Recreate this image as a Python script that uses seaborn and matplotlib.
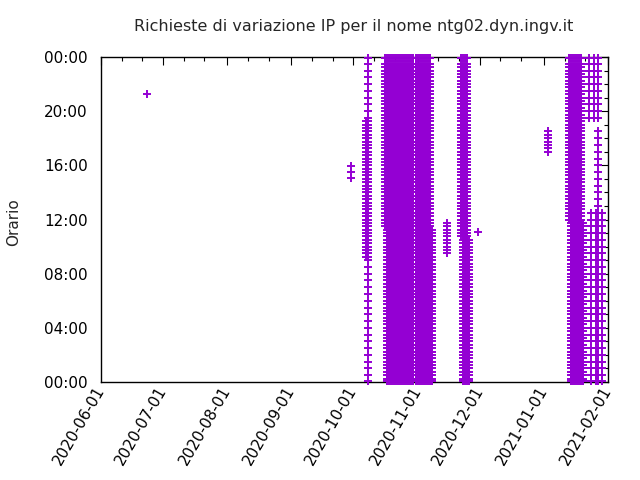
import matplotlib
matplotlib.use("Agg")
import matplotlib.pyplot as plt
import matplotlib.dates as mdates
from matplotlib.ticker import MultipleLocator, FuncFormatter
import seaborn as sns
import pandas as pd

# ---------------- data ----------------
TITLE = "Richieste di variazione IP per il nome ntg02.dyn.ingv.it"
YLABEL = "Orario"
X_START, X_END = "2020-06-01", "2021-02-01"

# time-of-day samples (hours)
T_HALF = [0.1, 0.5, 1.0, 1.5, 2.0, 2.5, 3.0, 3.5, 4.0, 4.5, 5.0, 5.5, 6.0, 6.5,
          7.0, 7.5, 8.0, 8.5, 9.0, 9.5, 10.0, 10.5, 11.0, 11.5, 12.0, 12.5,
          13.0, 13.5, 14.0, 14.5, 15.0, 15.5, 16.0, 16.5, 17.0, 17.5, 18.0,
          18.5, 19.0, 19.5, 20.0, 20.5, 21.0, 21.5, 22.0, 22.5, 23.0, 23.5, 23.9]
T_QUARTER = [0.1, 0.25, 0.5, 0.75, 1.0, 1.25, 1.5, 1.75, 2.0, 2.25, 2.5, 2.75,
             3.0, 3.25, 3.5, 3.75, 4.0, 4.25, 4.5, 4.75, 5.0, 5.25, 5.5, 5.75,
             6.0, 6.25, 6.5, 6.75, 7.0, 7.25, 7.5, 7.75, 8.0, 8.25, 8.5, 8.75,
             9.0, 9.25, 9.5, 9.75, 10.0, 10.25, 10.5, 10.75, 11.0, 11.25, 11.5, 11.75,
             12.0, 12.25, 12.5, 12.75, 13.0, 13.25, 13.5, 13.75, 14.0, 14.25, 14.5, 14.75,
             15.0, 15.25, 15.5, 15.75, 16.0, 16.25, 16.5, 16.75, 17.0, 17.25, 17.5, 17.75,
             18.0, 18.25, 18.5, 18.75, 19.0, 19.25, 19.5, 19.75, 20.0, 20.25, 20.5, 20.75,
             21.0, 21.25, 21.5, 21.75, 22.0, 22.25, 22.5, 22.75, 23.0, 23.25, 23.5, 23.9]

# isolated requests
JUN_DAYS, JUN_TIMES = ["2020-06-23"], [21.27]
SEP_DAYS, SEP_TIMES = ["2020-09-30"], [15.1, 15.5, 15.95]
NOV15_DAYS, NOV15_TIMES = ["2020-11-15"], [9.5, 9.75, 10.0, 10.25, 10.5, 10.75, 11.0, 11.25, 11.5, 11.75]
NOV30_DAYS, NOV30_TIMES = ["2020-11-30"], [11.1]
JAN03_DAYS, JAN03_TIMES = ["2021-01-03"], [17.0, 17.25, 17.5, 17.75, 18.0, 18.25, 18.5]

# early October column
OCT_A_TOP_DAYS = ["2020-10-08"]
OCT_A_MID_DAYS = ["2020-10-07", "2020-10-08"]
OCT_A_BOT_DAYS = ["2020-10-08"]

# main October / November block
OCT_B_TOP_DAYS = ["2020-10-16", "2020-10-17", "2020-10-18", "2020-10-19",
                  "2020-10-20", "2020-10-21", "2020-10-22", "2020-10-23", "2020-10-24",
                  "2020-10-25", "2020-10-26", "2020-10-27", "2020-10-28", "2020-10-29",
                  "2020-10-30", "2020-10-31", "2020-11-01", "2020-11-02", "2020-11-03",
                  "2020-11-04", "2020-11-05", "2020-11-06", "2020-11-07"]
OCT_B_BOT_DAYS = ["2020-10-17", "2020-10-18", "2020-10-19", "2020-10-20", "2020-10-21",
                  "2020-10-22", "2020-10-23", "2020-10-24", "2020-10-25", "2020-10-26",
                  "2020-10-27", "2020-10-28", "2020-10-29", "2020-10-30", "2020-10-31",
                  "2020-11-01", "2020-11-02", "2020-11-03", "2020-11-04", "2020-11-05",
                  "2020-11-06", "2020-11-07", "2020-11-08"]

# late November column
NOV_TOP_DAYS = ["2020-11-22", "2020-11-23", "2020-11-24", "2020-11-25"]
NOV_BOT_DAYS = ["2020-11-23", "2020-11-24", "2020-11-25", "2020-11-26"]

# January block
JAN_TOP_DAYS = ["2021-01-13", "2021-01-14", "2021-01-15", "2021-01-16",
                "2021-01-17", "2021-01-18", "2021-01-19"]
JAN_BOT_DAYS = ["2021-01-14", "2021-01-15", "2021-01-16", "2021-01-17",
                "2021-01-18", "2021-01-19", "2021-01-20"]
LATE_TOP_DAYS = ["2021-01-23", "2021-01-25", "2021-01-27"]
LATE_COL_DAYS = ["2021-01-27"]
LATE_BOT_DAYS = ["2021-01-24", "2021-01-26", "2021-01-29"]

COLOR = "#9400D3"

# ---------------- assemble table (x = day, y = time of day) ----------------
clusters = [
    (JUN_DAYS, JUN_TIMES),
    (SEP_DAYS, SEP_TIMES),
    (NOV15_DAYS, NOV15_TIMES),
    (NOV30_DAYS, NOV30_TIMES),
    (JAN03_DAYS, JAN03_TIMES),
    (OCT_A_TOP_DAYS, [t for t in T_HALF if t >= 19.5]),
    (OCT_A_MID_DAYS, [t for t in T_QUARTER if 9.25 <= t <= 19.25]),
    (OCT_A_BOT_DAYS, [t for t in T_HALF if t <= 9.0]),
    (OCT_B_TOP_DAYS, [t for t in T_QUARTER if t >= 11.5]),
    (OCT_B_BOT_DAYS, [t for t in T_QUARTER if t <= 11.25]),
    (NOV_TOP_DAYS, [t for t in T_QUARTER if t >= 10.75]),
    (NOV_BOT_DAYS, [t for t in T_QUARTER if t <= 10.5]),
    (JAN_TOP_DAYS, [t for t in T_QUARTER if t >= 12.0]),
    (JAN_BOT_DAYS, [t for t in T_QUARTER if t <= 11.75]),
    (LATE_TOP_DAYS, [t for t in T_HALF if t >= 19.5]),
    (LATE_COL_DAYS, [t for t in T_HALF if t <= 18.5]),
    (LATE_BOT_DAYS, [t for t in T_HALF if t <= 12.5]),
]
rows = []
for days, times in clusters:
    for d in days:
        for t in times:
            rows.append((pd.Timestamp(d), t))
df = pd.DataFrame(rows, columns=["data", "ora"])

# ---------------- plot ----------------
sns.set_style("white")
plt.rcParams["font.family"] = ["DejaVu Sans"]
fig = plt.figure(figsize=(6.4, 4.8), dpi=100)
ax = fig.add_axes([101 / 640, 1 - 382 / 480, (608 - 101) / 640, (382 - 57) / 480])

sns.scatterplot(data=df, x="data", y="ora", ax=ax, marker="+", color=COLOR,
                s=38, linewidth=1.4, clip_on=False, legend=False, zorder=3)

ax.set_xlim(pd.Timestamp(X_START), pd.Timestamp(X_END))
ax.set_ylim(0, 24)
ax.xaxis.set_major_locator(mdates.MonthLocator(bymonthday=1))
ax.xaxis.set_minor_locator(mdates.MonthLocator(bymonthday=[11, 21]))
ax.xaxis.set_major_formatter(mdates.DateFormatter("%Y-%m-%d"))
ax.yaxis.set_major_locator(MultipleLocator(4))
ax.yaxis.set_minor_locator(MultipleLocator(1))
ax.yaxis.set_major_formatter(FuncFormatter(lambda v, p: "%02d:00" % (int(round(v)) % 24)))

for sp in ax.spines.values():
    sp.set_color("black")
    sp.set_linewidth(1.0)
    sp.set_zorder(2)

ax.tick_params(which="both", direction="in", top=True, right=True, colors="black")
ax.tick_params(which="major", length=6, width=0.8, labelsize=11)
ax.tick_params(which="minor", length=3, width=0.8)
ax.tick_params(axis="y", which="major", pad=9.5)
ax.tick_params(axis="x", which="major", pad=4)
for lab in ax.get_xticklabels():
    lab.set_rotation(60)
    lab.set_ha("right")
    lab.set_va("center")
    lab.set_rotation_mode("anchor")

ax.set_xlabel("")
ax.set_ylabel("")
fig.text(14 / 640, 1 - 222 / 480, YLABEL, rotation=90, ha="center", va="center", fontsize=11)
fig.text(354 / 640, 1 - 27 / 480, TITLE, ha="center", va="center", fontsize=11.5)

fig.savefig("out.png", dpi=100)
